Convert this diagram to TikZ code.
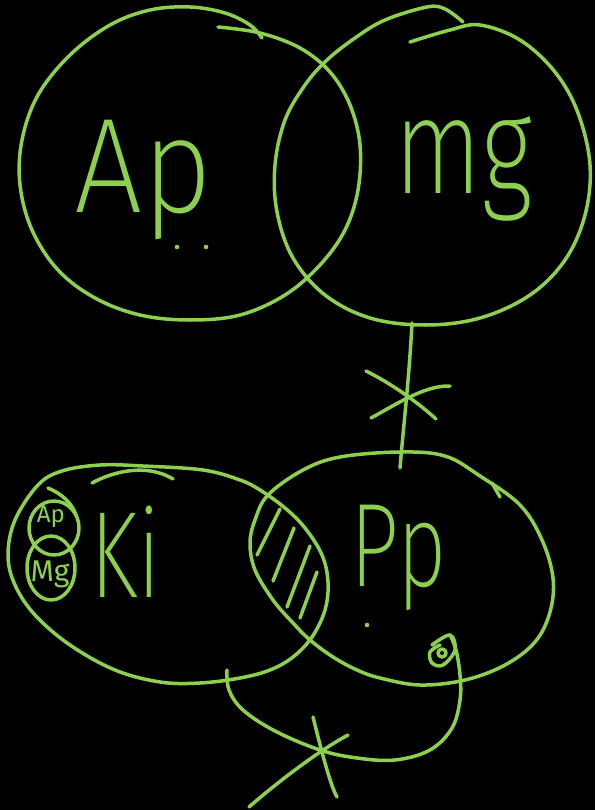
\documentclass[tikz,border=0pt]{standalone}
\usepackage{fontspec}
\newfontfamily\hand{Fira Sans ExtraLight}
\newfontfamily\handreg{Fira Sans}
\definecolor{chalk}{RGB}{141,208,78}
\begin{document}
\begin{tikzpicture}[x=1pt,y=-1pt,
  stroke/.style={draw=chalk,line width=3.5pt,line cap=round,line join=round},
  hatch/.style={draw=chalk,line width=3.5pt,line cap=round},
  biglabel/.style={text=chalk,inner sep=0pt,anchor=base west,font=\hand},
  smalllabel/.style={text=chalk,inner sep=0pt,font=\handreg}]
\fill[black] (0,0) rectangle (595,810);
\useasboundingbox (0,0) rectangle (595,810);
% top-left set
\draw[stroke] plot[smooth,tension=0.6] coordinates {(218,27) (260,33) (300,48) (330,72) (350,105) (360,145) (358,190) (345,230) (320,265) (285,295) (240,315) (190,320) (140,315) (95,298) (58,270) (32,230) (20,185) (22,140) (38,95) (70,55) (110,25) (150,10) (190,7) (225,13) (250,25) (262,38)};
% top-right set
\draw[stroke] plot[smooth,tension=0.6] coordinates {(410,42) (450,30) (480,25) (520,40) (555,72) (578,113) (590,165) (585,215) (565,260) (530,295) (480,318) (425,325) (370,318) (325,295) (293,258) (277,212) (275,165) (285,120) (305,85) (327,60) (355,38) (385,20) (427,7) (445,9) (463,22)};
% connector with cross
\coordinate (mgbottom) at (412,323);
\coordinate (pptop) at (400,468);
\draw[stroke] (mgbottom) .. controls (409,380) and (404,420) .. (pptop);
\draw[stroke] (366,371) .. controls (390,383) and (415,400) .. (436,419);
\draw[stroke] (371,418) .. controls (395,405) and (425,385) .. (450,386);
% Ki ellipse
\draw[stroke] plot[smooth cycle,tension=0.6] coordinates {(38,485) (15,520) (8,555) (15,585) (35,615) (70,645) (115,670) (160,682) (200,683) (240,678) (270,670) (293,657) (312,637) (325,610) (328,582) (322,555) (305,528) (285,508) (260,490) (240,480) (203,470) (143,466) (100,465) (62,471)};
\draw[stroke] (92,483) .. controls (110,473) and (145,462) .. (173,479);
% Pp ellipse
\draw[stroke] plot[smooth cycle,tension=0.6] coordinates {(303,470) (340,457) (400,452) (445,456) (480,476) (520,505) (542,540) (553,578) (550,612) (535,642) (505,665) (465,680) (420,685) (380,678) (357,670) (333,657) (310,640) (293,623) (273,600) (255,570) (250,543) (255,520) (268,495)};
\draw[stroke] (492,483) -- (500,497);
% hatching in the overlap
\draw[hatch] (280,509) -- (257,555);
\draw[hatch] (294,528) -- (273,581);
\draw[hatch] (310,546) -- (287,607);
\draw[hatch] (317,572) -- (300,618);
% small circles at left
\draw[stroke] (54,528) ellipse [x radius=25, y radius=27];
\draw[stroke] (51,568) ellipse [x radius=24, y radius=32];
\draw[stroke] (48,488) .. controls (62,494) and (72,503) .. (76,515);
\node[smalllabel] (apsmall) at (51,517) {\fontsize{24}{24}\selectfont Ap};
\node[smalllabel] (mgsmall) at (50,574) {\fontsize{30}{30}\selectfont Mg};
% spiral and loop at bottom
\draw[stroke] (442,653) circle (4);
\draw[stroke] plot[smooth,tension=0.6] coordinates {(432,645) (450,635) (455,650) (443,665) (432,663) (430,652) (440,645)};
\draw[stroke] plot[smooth,tension=0.6] coordinates {(450,635) (456,650) (460,675) (460,700) (452,728) (430,750) (395,760) (357,758) (320,750) (275,731) (243,710) (229,690) (227,670)};
% bottom cross
\draw[stroke] (313,717) .. controls (320,745) and (330,785) .. (337,797);
\draw[stroke] (348,735) .. controls (320,750) and (280,780) .. (249,807);
% big labels
\node[biglabel,xscale=0.9] (ap) at (74,213) {\fontsize{135}{135}\selectfont Ap};
\fill[chalk] (177,247) circle (2.3);
\fill[chalk] (206,247) circle (2.3);
\node[biglabel,xscale=0.75] (mg) at (394,194) {\fontsize{137}{137}\selectfont mg};
\node[biglabel,xscale=0.72] (ki) at (90,597) {\fontsize{123}{123}\selectfont Ki};
\node[biglabel,xscale=0.72] (pp) at (350,586) {\fontsize{119}{119}\selectfont Pp};
\fill[chalk] (367,625) circle (2.3);
\end{tikzpicture}
\end{document}
